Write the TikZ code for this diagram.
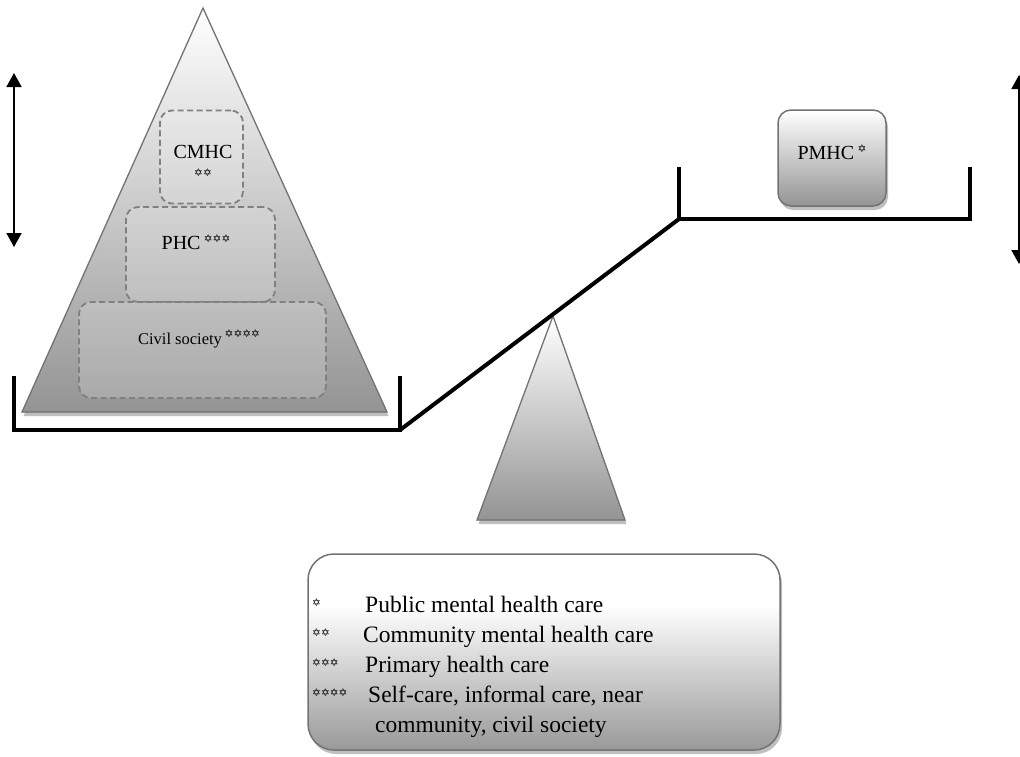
\documentclass[tikz,border=0pt]{standalone}
\usepackage{fontspec}
\setmainfont{Liberation Serif}
\newfontfamily\starfont{DejaVu Sans}
\usetikzlibrary{arrows.meta}
\newcommand{\mystars}[1]{{\starfont\fontsize{10.5}{10.5}\selectfont #1}}
\newcommand{\supstars}[1]{\raisebox{0.38em}{\mystars{#1}}}
\pgfdeclareverticalshading{legshade}{100bp}{color(0bp)=(black!40); color(25bp)=(black!40); color(62bp)=(white); color(100bp)=(white)}
\begin{document}
\begin{tikzpicture}[x=1pt,y=-1pt,
  tri/.style={draw=black!55, line width=1.3pt, top color=white, bottom color=black!42,
    preaction={fill=black!25, transform canvas={xshift=1.5pt,yshift=-4pt}}},
  dbox/.style={draw=black!50, line width=1.8pt, dash pattern=on 6pt off 3.5pt,
    rounded corners=12pt, fill=white, fill opacity=0.18, inner sep=0pt},
  pan/.style={line width=4pt, line join=miter},
  dbl/.style={line width=1.8pt, {Triangle[width=15pt,length=14pt]}-{Triangle[width=15pt,length=14pt]}},
  lbl/.style={inner sep=0pt, text=black},
  leg/.style={inner sep=0pt, anchor=base west, font=\fontsize{23.5}{28}\selectfont},
  sbox/.style={draw=black!55, line width=1.5pt, shading=legshade,
    preaction={fill=black!25, transform canvas={xshift=2pt,yshift=-4pt}}}
]
\useasboundingbox (0,0) rectangle (1020,756);

% big pyramid
\filldraw[tri] (203,8) -- (387,412) -- (22,412) -- cycle;
% fulcrum
\filldraw[tri] (553,316) -- (625,520) -- (477,520) -- cycle;

% dashed boxes
\node[dbox, minimum width=83pt, minimum height=93pt] (cmhc) at (201.5,157) {};
\node[dbox, minimum width=149pt, minimum height=95pt] (phc) at (200.5,254.5) {};
\node[dbox, minimum width=247pt, minimum height=96pt] (civil) at (202.5,350) {};

\node[lbl, font=\fontsize{20}{22}\selectfont] (cmhct) at (203,152) {CMHC};
\node[lbl] (cmhcs) at (203,173) {\mystars{✡✡}};
\node[lbl, font=\fontsize{20}{22}\selectfont] (phct) at (196,242) {PHC\,\supstars{✡✡✡}};
\node[lbl, font=\fontsize{16.5}{18}\selectfont] (civt) at (199,339) {Civil society\,\supstars{✡✡✡✡}};

% PMHC box
\node[sbox, shading=axis, top color=white, bottom color=black!42, rounded corners=13pt,
  minimum width=108pt, minimum height=96pt] (pmhc) at (832,158) {};
\node[lbl, font=\fontsize{20}{22}\selectfont] (pmhct) at (832,152) {PMHC\,\supstars{✡}};

% balance
\coordinate (lp1) at (14,376);
\coordinate (lp2) at (14,430);
\coordinate (lp3) at (400,430);
\coordinate (lp4) at (400,376);
\coordinate (rp1) at (679,167);
\coordinate (rp2) at (679,219);
\coordinate (rp3) at (970,219);
\coordinate (rp4) at (970,167);
\draw[pan] (lp1) -- (lp2) -- (lp3) -- (lp4);
\draw[pan] (lp3) -- (rp2);
\draw[pan] (rp1) -- (rp2) -- (rp3) -- (rp4);

% double arrows
\coordinate (la1) at (14,73);
\coordinate (la2) at (14,247);
\coordinate (ra1) at (1019,75);
\coordinate (ra2) at (1019,264);
\draw[dbl] (la1) -- (la2);
\draw[dbl] (ra1) -- (ra2);

% legend
\node[sbox, rounded corners=26pt, minimum width=472pt, minimum height=196pt] (legend) at (544,652) {};
\node[lbl, anchor=west] (s1) at (312,603) {\mystars{✡}};
\node[lbl, anchor=west] (s2) at (312,633) {\mystars{✡✡}};
\node[lbl, anchor=west] (s3) at (312,663) {\mystars{✡✡✡}};
\node[lbl, anchor=west] (s4) at (312,693) {\mystars{✡✡✡✡}};
\node[leg] (t1) at (365,612) {Public mental health care};
\node[leg] (t2) at (363,642) {Community mental health care};
\node[leg] (t3) at (365,672) {Primary health care};
\node[leg] (t4) at (368,702) {Self-care, informal care, near};
\node[leg] (t5) at (375,732) {community, civil society};
\end{tikzpicture}
\end{document}
